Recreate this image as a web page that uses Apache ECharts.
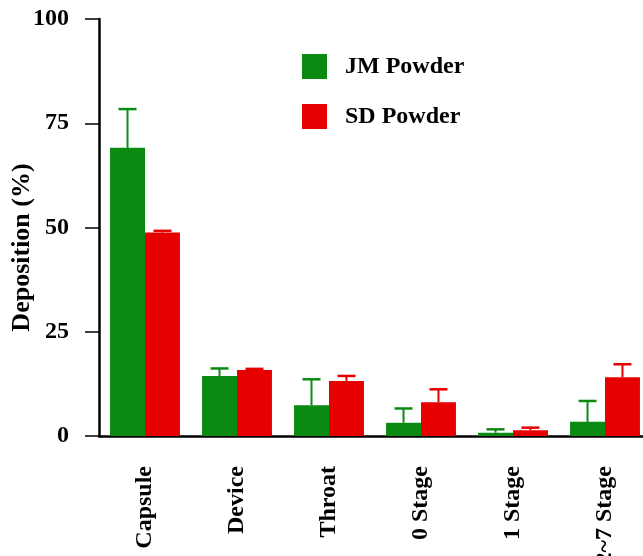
<!DOCTYPE html>
<html>
<head>
<meta charset="utf-8">
<script src="https://cdn.jsdelivr.net/npm/echarts@6/dist/echarts.min.js"></script>
<style>html,body{margin:0;padding:0;background:#fff}#c{width:643px;height:556px}</style>
</head>
<body>
<div id="c"></div>
<script>
var categories = ['Capsule', 'Device', 'Throat', '0 Stage', '1 Stage', '2~7 Stage'];
var jmMean = [69.1, 14.4, 7.4, 3.2, 0.8, 3.4];
var jmSD   = [9.3, 1.8, 6.2, 3.4, 0.8, 5.0];
var sdMean = [48.8, 15.8, 13.2, 8.1, 1.4, 14.1];
var sdSD   = [0.4, 0.3, 1.2, 3.1, 0.6, 3.1];
var yTicks = [0, 25, 50, 75, 100];

var GREEN = '#0b8a12';
var RED = '#e60000';
var FONT = 'Liberation Serif';
var FS = 24;
var GAP = 0.24;

function errData(mean, sd) {
  return mean.map(function (m, i) { return [i, m, m + sd[i]]; });
}
function makeErr(side, color) {
  return function (params, api) {
    var i = api.value(0);
    var band = api.size([1, 0])[0];
    var barW = band * (1 - GAP) / 2;
    var off = side * barW / 2;
    var p0 = api.coord([i, api.value(1)]);
    var p1 = api.coord([i, api.value(2)]);
    var x = p0[0] + off;
    var cap = 18;
    return {
      type: 'group',
      children: [
        { type: 'line', shape: { x1: x, y1: p0[1], x2: x, y2: p1[1] }, style: { stroke: color, lineWidth: 2 } },
        { type: 'line', shape: { x1: x - cap / 2, y1: p1[1], x2: x + cap / 2, y2: p1[1] }, style: { stroke: color, lineWidth: 2.5 } }
      ]
    };
  };
}

var chart = echarts.init(document.getElementById('c'), null, { renderer: 'canvas' });
chart.setOption({
  animation: false,
  backgroundColor: '#fff',
  grid: { left: 99, top: 19, width: 552, height: 417, containLabel: false, outerBoundsMode: 'none' },
  legend: {
    data: ['JM Powder', 'SD Powder'],
    orient: 'vertical',
    left: 302, top: 54, padding: 0,
    itemWidth: 25, itemHeight: 25, itemGap: 25,
    icon: 'rect',
    textStyle: { fontFamily: FONT, fontWeight: 'bold', fontSize: FS, color: '#000', padding: [0, 0, 0, 13] }
  },
  xAxis: {
    type: 'category',
    data: categories,
    axisLine: { lineStyle: { color: '#000', width: 2.5 } },
    axisTick: { alignWithLabel: true, length: 9, lineStyle: { color: '#000', width: 1.5 } },
    axisLabel: { rotate: 90, margin: 30, fontFamily: FONT, fontWeight: 'bold', fontSize: FS, color: '#000' },
    splitLine: { show: false }
  },
  yAxis: {
    type: 'value',
    min: yTicks[0], max: yTicks[yTicks.length - 1], interval: 25,
    name: 'Deposition (%)',
    nameLocation: 'middle',
    nameGap: 64,
    nameMoveOverlap: false,
    nameTextStyle: { fontFamily: FONT, fontWeight: 'bold', fontSize: 26, color: '#000', padding: [0, 40, 0, 0] },
    axisLine: { show: true, lineStyle: { color: '#000', width: 2.5 } },
    axisTick: { show: true, length: 14, lineStyle: { color: '#000', width: 1.5 } },
    axisLabel: { margin: 30, fontFamily: FONT, fontWeight: 'bold', fontSize: FS, color: '#000' },
    splitLine: { show: false }
  },
  series: [
    { name: 'JM Powder', type: 'bar', data: jmMean, barGap: '0%', barCategoryGap: (GAP * 100) + '%', itemStyle: { color: GREEN } },
    { name: 'SD Powder', type: 'bar', data: sdMean, barGap: '0%', barCategoryGap: (GAP * 100) + '%', itemStyle: { color: RED } },
    { name: 'jmErr', type: 'custom', data: errData(jmMean, jmSD), renderItem: makeErr(-1, GREEN), z: 3 },
    { name: 'sdErr', type: 'custom', data: errData(sdMean, sdSD), renderItem: makeErr(1, RED), z: 3 }
  ]
});
</script>
</body>
</html>
